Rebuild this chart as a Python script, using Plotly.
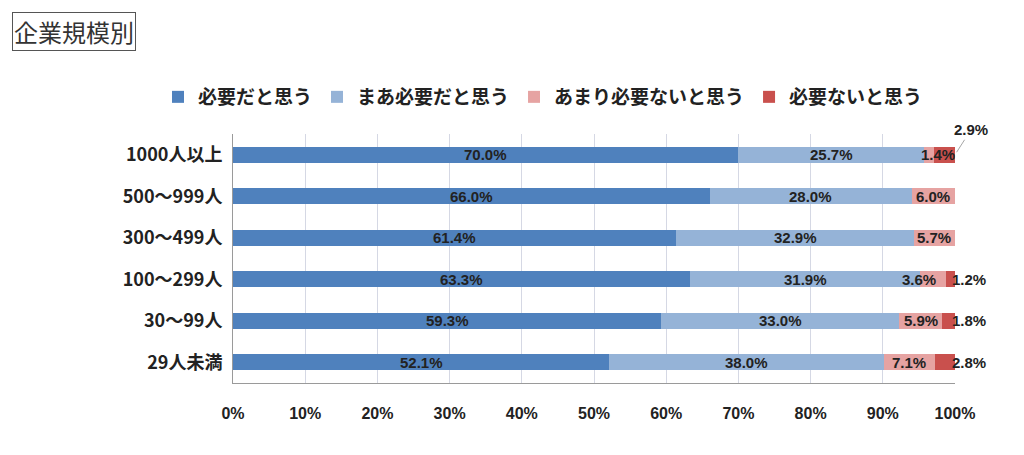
import plotly.graph_objects as go

categories = ["1000人以上", "500～999人", "300～499人", "100～299人", "30～99人", "29人未満"]
series_names = ["必要だと思う", "まあ必要だと思う", "あまり必要ないと思う", "必要ないと思う"]
v_need = [70.0, 66.0, 61.4, 63.3, 59.3, 52.1]
v_somewhat = [25.7, 28.0, 32.9, 31.9, 33.0, 38.0]
v_notmuch = [1.4, 6.0, 5.7, 3.6, 5.9, 7.1]
v_not = [2.9, 0.0, 0.0, 1.2, 1.8, 2.8]
colors = ["#4F81BD", "#95B3D7", "#E6A3A2", "#C9504D"]
tick_vals = [0, 10, 20, 30, 40, 50, 60, 70, 80, 90, 100]
tick_text = ["0%", "10%", "20%", "30%", "40%", "50%", "60%", "70%", "80%", "90%", "100%"]

JP = "Noto Sans CJK JP"
NUM = "Liberation Sans"
LBL = dict(family=NUM, size=15, color="#222222", weight="bold")

series = [v_need, v_somewhat, v_notmuch, v_not]
fig = go.Figure()
for name, vals, col in zip(series_names, series, colors):
    fig.add_trace(go.Bar(
        y=categories, x=vals, name=name, orientation="h",
        marker=dict(color=col, line=dict(width=0)),
        hoverinfo="x+name",
    ))

for i, cat in enumerate(categories):
    left = 0.0
    for s, vals in enumerate(series):
        v = vals[i]
        if v <= 0:
            continue
        center = left + v / 2
        text = f"{v:.1f}%"
        if s == 3:
            if i == 0:
                fig.add_annotation(
                    x=100, y=cat, xref="x", yref="y", text=text,
                    showarrow=True, arrowhead=0, arrowwidth=1, arrowcolor="#A6A6A6",
                    ax=16, ay=-25, standoff=3, font=LBL,
                )
            else:
                fig.add_annotation(
                    x=100, y=cat, xref="x", yref="y", text=text,
                    showarrow=False, xanchor="center", xshift=14, font=LBL,
                )
        else:
            xshift = 0
            if s == 2 and v < 5 and i > 0:
                xshift = -14
            if s == 2 and i == 0:
                xshift = 9
            fig.add_annotation(
                x=center, y=cat, xref="x", yref="y", text=text,
                showarrow=False, xanchor="center", xshift=xshift, font=LBL,
            )
        left += v

fig.add_annotation(
    xref="paper", yref="paper",
    x=(12 - 233) / 722, y=1 + (134 - 12) / 249,
    text="企業規模別", showarrow=False, xanchor="left", yanchor="top",
    font=dict(family=JP, size=24, color="#333333"),
    bordercolor="#555555", borderwidth=1, borderpad=1, bgcolor="white",
)

fig.update_layout(
    width=1024, height=455,
    barmode="stack", bargap=0.61,
    paper_bgcolor="white", plot_bgcolor="white",
    margin=dict(l=233, r=69, t=134, b=72, autoexpand=False),
    font=dict(family=JP, size=16, color="#222222"),
    legend=dict(
        orientation="h", xref="paper", yref="paper",
        x=(158 - 233) / 722, y=1 + (134 - 97) / 249, xanchor="left", yanchor="middle",
        font=dict(family=JP, size=19, color="#222222", weight="bold"),
        traceorder="normal", itemwidth=30,
    ),
    showlegend=True,
)

fig.update_xaxes(
    range=[0, 100], tickvals=tick_vals, ticktext=tick_text,
    showgrid=True, gridcolor="#D5D8E4", gridwidth=1,
    showline=True, linecolor="#9A9A9A", linewidth=1, mirror=False,
    ticks="", ticklabelstandoff=16,
    tickfont=dict(family=NUM, size=16, color="#222222", weight="bold"),
    zeroline=False, fixedrange=True,
)
fig.update_yaxes(
    categoryorder="array", categoryarray=categories[::-1],
    range=[-0.5, len(categories) - 0.5], autorange=False,
    showline=True, linecolor="#9A9A9A", linewidth=1,
    ticks="", ticklabelstandoff=6,
    tickfont=dict(family=JP, size=18, color="#222222", weight="bold"),
    showgrid=False, fixedrange=True,
)

fig.write_html("out.html")
